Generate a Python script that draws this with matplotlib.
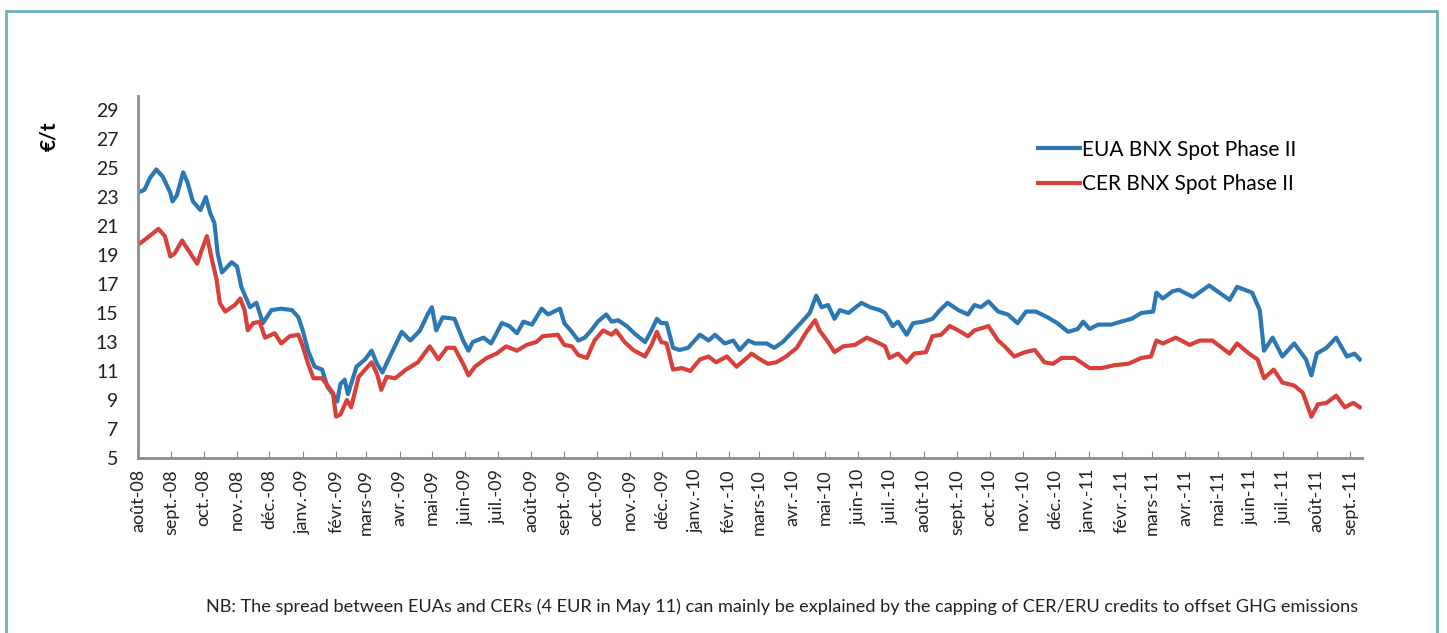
import matplotlib
matplotlib.use("Agg")
import matplotlib.pyplot as plt
import numpy as np
import pandas as pd
from matplotlib.patches import Rectangle

plt.rcParams['font.family'] = ['Lato', 'DejaVu Sans']

# days since 2008-08-01, values in EUR/t
eua_days = [0, 6, 11, 17, 23, 30, 32, 36, 42, 46, 51, 58, 63, 67, 71, 74, 78, 87, 92, 96,
            104, 110, 116, 124, 133, 143, 149, 153, 158, 164, 171, 176, 183, 185, 188, 192, 195,
            203, 211, 217, 222, 227, 234, 245, 253, 262, 269, 273, 277, 283, 294, 302, 307, 311,
            321, 328, 338, 345, 352, 358, 366, 375, 381, 392, 396, 403, 409, 415, 421, 427, 435,
            440, 446, 454, 461, 471, 477, 482, 486, 491, 497, 503, 511, 522, 530, 536, 545, 553,
            559, 567, 573, 584, 591, 599, 608, 618, 624, 630, 635, 641, 647, 652, 660, 672, 680,
            689, 694, 701, 706, 714, 720, 729, 738, 745, 752, 762, 771, 777, 783, 790, 799, 808,
            817, 825, 834, 845, 854, 864, 873, 878, 884, 892, 904, 913, 923, 932, 943, 946, 952,
            961, 967, 980, 995, 1014, 1021, 1035, 1042, 1046, 1054, 1063, 1074, 1085, 1090, 1095,
            1104, 1113, 1123, 1130, 1135]
eua = [23.3, 23.5, 24.3, 24.9, 24.4, 23.3, 22.7, 23.1, 24.7, 24.0, 22.7, 22.1, 23.0, 21.9, 21.2,
       19.1, 17.8, 18.5, 18.2, 16.8, 15.4, 15.7, 14.3, 15.2, 15.3, 15.2, 14.7, 13.8, 12.4, 11.3,
       11.1, 9.9, 9.2, 8.9, 10.1, 10.4, 9.4, 11.3, 11.8, 12.4, 11.5, 10.9, 12.0, 13.7, 13.1, 13.8,
       14.9, 15.4, 13.8, 14.7, 14.6, 13.1, 12.4, 13.0, 13.3, 12.9, 14.3, 14.1, 13.6, 14.4, 14.2,
       15.3, 14.9, 15.3, 14.3, 13.7, 13.1, 13.3, 13.8, 14.4, 14.9, 14.4, 14.5, 14.1, 13.6, 13.0,
       13.8, 14.6, 14.3, 14.3, 12.6, 12.45, 12.6, 13.5, 13.1, 13.5, 12.9, 13.1, 12.45, 13.1, 12.9,
       12.9, 12.6, 13.0, 13.7, 14.5, 15.0, 16.2, 15.4, 15.55, 14.6, 15.2, 15.0, 15.7, 15.4, 15.2,
       15.0, 14.1, 14.4, 13.5, 14.3, 14.4, 14.6, 15.2, 15.7, 15.2, 14.9, 15.55, 15.4, 15.8, 15.1,
       14.9, 14.3, 15.1, 15.1, 14.7, 14.3, 13.7, 13.9, 14.4, 13.9, 14.2, 14.2, 14.4, 14.6, 15.0,
       15.1, 16.4, 16.0, 16.5, 16.6, 16.1, 16.9, 15.9, 16.8, 16.4, 15.2, 12.4, 13.3, 12.0, 12.9,
       11.8, 10.7, 12.2, 12.6, 13.3, 12.0, 12.2, 11.8]

cer_days = [0, 8, 19, 25, 30, 34, 41, 47, 55, 59, 64, 68, 73, 76, 81, 90, 95, 99, 102, 107, 113,
            118, 127, 133, 141, 149, 153, 158, 163, 171, 177, 181, 184, 188, 194, 198, 205, 211,
            217, 222, 226, 231, 239, 249, 260, 271, 279, 287, 294, 302, 307, 313, 324, 333, 342,
            352, 361, 370, 376, 390, 396, 403, 409, 417, 424, 432, 440, 444, 452, 460, 471, 477,
            482, 486, 491, 497, 505, 513, 522, 530, 537, 547, 556, 564, 570, 578, 585, 593, 602,
            612, 621, 629, 633, 641, 647, 655, 666, 677, 686, 694, 698, 706, 714, 721, 732, 738,
            746, 754, 762, 771, 777, 790, 799, 805, 814, 824, 833, 842, 850, 858, 870, 884, 895,
            907, 920, 932, 941, 946, 952, 964, 977, 986, 998, 1014, 1021, 1032, 1040, 1046, 1055,
            1063, 1074, 1082, 1090, 1096, 1104, 1113, 1121, 1129, 1135]
cer = [19.7, 20.15, 20.8, 20.3, 18.9, 19.1, 20.0, 19.3, 18.4, 19.3, 20.3, 18.9, 17.3, 15.7, 15.1,
       15.55, 16.0, 15.2, 13.8, 14.3, 14.4, 13.3, 13.6, 12.9, 13.4, 13.5, 12.7, 11.5, 10.5, 10.5,
       9.9, 9.5, 7.85, 8.0, 9.0, 8.5, 10.6, 11.1, 11.6, 10.8, 9.7, 10.6, 10.5, 11.1, 11.6, 12.7,
       11.8, 12.6, 12.6, 11.5, 10.7, 11.3, 11.9, 12.2, 12.7, 12.4, 12.8, 13.0, 13.4, 13.5, 12.8,
       12.7, 12.1, 11.9, 13.1, 13.8, 13.5, 13.8, 13.0, 12.45, 12.0, 12.8, 13.7, 13.0, 12.9, 11.1,
       11.2, 11.0, 11.8, 12.0, 11.6, 12.0, 11.3, 11.8, 12.2, 11.8, 11.5, 11.6, 12.0, 12.6, 13.7,
       14.5, 13.8, 13.0, 12.3, 12.7, 12.8, 13.3, 13.0, 12.7, 11.9, 12.2, 11.6, 12.2, 12.3, 13.4,
       13.5, 14.1, 13.8, 13.4, 13.8, 14.1, 13.1, 12.7, 12.0, 12.3, 12.45, 11.6, 11.5, 11.9, 11.9,
       11.2, 11.2, 11.4, 11.5, 11.9, 12.0, 13.1, 12.9, 13.3, 12.8, 13.1, 13.1, 12.2, 12.9, 12.2,
       11.8, 10.5, 11.1, 10.2, 10.0, 9.5, 7.85, 8.7, 8.8, 9.3, 8.5, 8.8, 8.5]

mois = ['janv.', 'févr.', 'mars', 'avr.', 'mai', 'juin', 'juil.', 'août', 'sept.', 'oct.', 'nov.', 'déc.']
note = ("NB: The spread between EUAs and CERs (4 EUR in May 11) can mainly be explained "
        "by the capping of CER/ERU credits to offset GHG emissions")

start = np.datetime64('2008-08-01')
eua_x = start + np.array(eua_days).astype('timedelta64[D]')
cer_x = start + np.array(cer_days).astype('timedelta64[D]')
months = pd.date_range('2008-08-01', '2011-09-01', freq='MS')
month_labels = [mois[d.month - 1] + '-' + str(d.year)[2:] for d in months]

fig = plt.figure(figsize=(14.47, 6.33), dpi=100)
ax = fig.add_axes([138/1447, 1-458/633, 1224/1447, (458-95.5)/633])

ax.plot(eua_x, eua, color='#2b78b5', lw=3, label='EUA BNX Spot Phase II')
ax.plot(cer_x, cer, color='#d8403a', lw=3, label='CER BNX Spot Phase II')

ax.set_ylim(5, 30)
ax.set_yticks(np.arange(5, 30, 2))
ax.set_xlim(start, start + np.timedelta64(1137, 'D'))
ax.set_xticks(months)
ax.set_xticklabels(month_labels, rotation=90, fontsize=13, color='#222222')
ax.tick_params(axis='y', length=0, labelsize=14, labelcolor='#222222', pad=14)
ax.tick_params(axis='x', direction='in', length=5, color='#888888', pad=8)

for s in ['top', 'right']:
    ax.spines[s].set_visible(False)
for s in ['left', 'bottom']:
    ax.spines[s].set_color('#8c8c8c')
    ax.spines[s].set_linewidth(2)

fig.text(49/1447, 1-136/633, '€/t', rotation=90, fontsize=15, fontweight='bold',
         ha='center', va='center')

ax.legend(loc='upper left', bbox_to_anchor=(0.72, 0.93), frameon=False, fontsize=15,
          handlelength=2.0, handletextpad=0.1, labelspacing=0.7)

fig.text(206/1447, 1-607/633, note, fontsize=13.1, color='#222222', va='center')

fig.patches.append(Rectangle((6/1447, -0.05), 1431/1447, 1.05-11/633, transform=fig.transFigure,
                             fill=False, edgecolor='#6fb0c4', lw=2))

fig.savefig('out.png', dpi=100)
